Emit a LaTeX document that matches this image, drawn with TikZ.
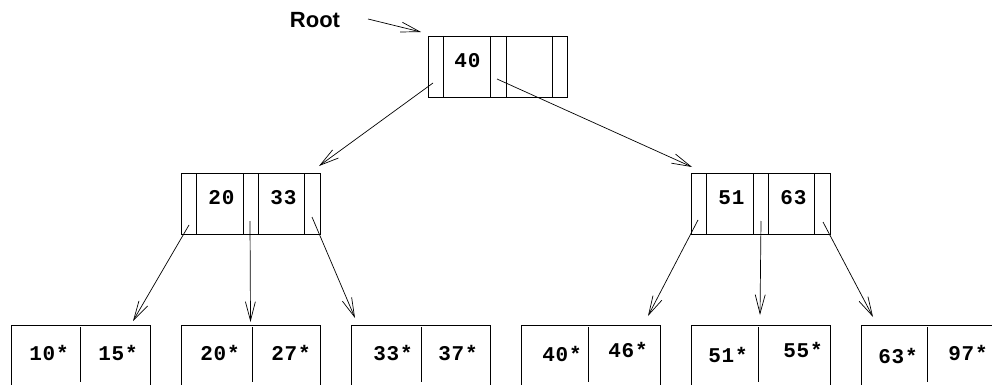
\documentclass[tikz,border=0pt]{standalone}
\usepackage{fontspec}
\setmainfont{Liberation Sans}
\newfontfamily\keyfont{Liberation Mono}[LetterSpace=4]
\usetikzlibrary{arrows.meta}
\tikzset{
  edge/.style={line width=0.8pt},
  ptr/.style={line width=0.7pt,-{Straight Barb[length=19pt,width=10pt,line width=0.7pt]}},
  key/.style={font=\keyfont\bfseries\fontsize{21}{21}\selectfont, inner sep=0pt, anchor=center},
  inode/.style={draw, line width=0.8pt, minimum width=139pt, minimum height=61pt, inner sep=0pt, anchor=north west},
  lbl/.style={font=\bfseries\fontsize{22}{22}\selectfont, inner sep=0pt, anchor=base}
}
\begin{document}
\begin{tikzpicture}[x=1pt,y=-1pt]
\useasboundingbox (0,0) rectangle (992,385);
\fill[white] (0,0) rectangle (992,385);

% Root label
\node[lbl] (rootlbl) at (315,28) {Root};
\coordinate (rlstart) at (368,19);
\coordinate (rltip) at (421,32);

% Root node
\node[inode] (root) at (428,36) {};
\foreach \x in {443,490,506,552} \draw[edge] (\x,36) -- (\x,97);
\node[key] (k40) at (467.5,61) {40};

% Left internal node
\node[inode] (L) at (181,173) {};
\foreach \x in {196,243,258,304} \draw[edge] (\x,173) -- (\x,234);
\node[key] (k20) at (221.5,198) {20};
\node[key] (k33) at (283.5,198) {33};

% Right internal node
\node[inode] (R) at (691,173) {};
\foreach \x in {706,753,768,814} \draw[edge] (\x,173) -- (\x,234);
\node[key] (k51) at (731.5,198) {51};
\node[key] (k63) at (793.5,198) {63};

% Leaves
\foreach \l/\d/\r in {11/80/150, 181/252/320, 351/421/490, 521/588/660, 691/758/830}{
  \draw[edge] (\l,385) -- (\l,325) -- (\r,325) -- (\r,385);
  \draw[edge] (\d,327) -- (\d,382);
}
\draw[edge] (861,385) -- (861,325) -- (992,325);
\draw[edge] (927,327) -- (927,382);

\node[key] (l10) at (49,352.5) {10*};
\node[key] (l15) at (118,352.5) {15*};
\node[key] (l20) at (220,353) {20*};
\node[key] (l27) at (291,353) {27*};
\node[key] (l33) at (393,353.5) {33*};
\node[key] (l37) at (458,353.5) {37*};
\node[key] (l40) at (562,354) {40*};
\node[key] (l46) at (628,350) {46*};
\node[key] (l51) at (728,355) {51*};
\node[key] (l55) at (803,350) {55*};
\node[key] (l63) at (898,356.5) {63*};
\node[key] (l97) at (968,352.5) {97*};

% pointer coordinates
\coordinate (rp0) at (433,83);
\coordinate (rp1) at (497,79);
\coordinate (Lp0) at (189,225);
\coordinate (Lp1) at (250,221);
\coordinate (Lp2) at (312,217);
\coordinate (Rp0) at (698,220);
\coordinate (Rp1) at (761,221);
\coordinate (Rp2) at (823,222);
\coordinate (tL) at (319,166);
\coordinate (tR) at (692,167);
\coordinate (t1) at (133,321);
\coordinate (t2) at (250.5,322);
\coordinate (t3) at (355,318);
\coordinate (t4) at (648,316);
\coordinate (t5) at (760,315);
\coordinate (t6) at (873,317);

\draw[ptr] (rlstart) -- (rltip);
\draw[ptr] (rp0) -- (tL);
\draw[ptr] (rp1) -- (tR);
\draw[ptr] (Lp0) -- (t1);
\draw[ptr] (Lp1) -- (t2);
\draw[ptr] (Lp2) -- (t3);
\draw[ptr] (Rp0) -- (t4);
\draw[ptr] (Rp1) -- (t5);
\draw[ptr] (Rp2) -- (t6);
\end{tikzpicture}
\end{document}
